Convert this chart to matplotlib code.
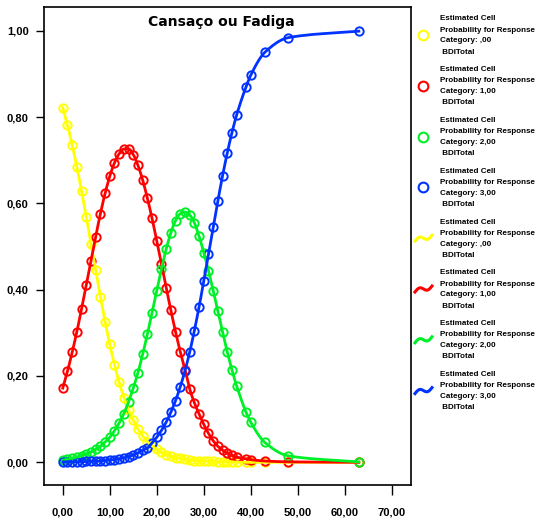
import numpy as np
import matplotlib
matplotlib.use("Agg")
import matplotlib.pyplot as plt
from matplotlib.lines import Line2D

# BDITotal values where the model was evaluated
bdi = [0, 1, 2, 3, 4, 5, 6, 7, 8, 9, 10, 11, 12, 13, 14, 15, 16, 17, 18, 19,
       20, 21, 22, 23, 24, 25, 26, 27, 28, 29, 30, 31, 32, 33, 34, 35, 36, 37,
       39, 40, 43, 48, 63]

# estimated cell probabilities, one list per response category
cat0 = [0.822, 0.781, 0.735, 0.684, 0.628, 0.568, 0.506, 0.445, 0.384, 0.326,
        0.273, 0.226, 0.185, 0.150, 0.121, 0.097, 0.077, 0.061, 0.048, 0.038,
        0.030, 0.023, 0.018, 0.014, 0.011, 0.009, 0.007, 0.005, 0.004, 0.003,
        0.003, 0.002, 0.002, 0.001, 0.001, 0.001, 0.001, 0.000,
        0.000, 0.000, 0.000, 0.000, 0.000]
cat1 = [0.172, 0.211, 0.255, 0.303, 0.356, 0.411, 0.467, 0.523, 0.576, 0.623,
        0.663, 0.694, 0.715, 0.726, 0.726, 0.713, 0.688, 0.654, 0.612, 0.565,
        0.513, 0.460, 0.405, 0.352, 0.302, 0.256, 0.215, 0.170, 0.138, 0.112,
        0.088, 0.067, 0.050, 0.037, 0.028, 0.021, 0.016, 0.012,
        0.008, 0.006, 0.003, 0.001, 0.000]
cat2 = [0.005, 0.007, 0.009, 0.012, 0.015, 0.019, 0.024, 0.030, 0.037, 0.047,
        0.058, 0.073, 0.091, 0.113, 0.140, 0.172, 0.208, 0.250, 0.297, 0.347,
        0.398, 0.448, 0.494, 0.532, 0.560, 0.576, 0.580, 0.573, 0.555, 0.524,
        0.486, 0.444, 0.398, 0.350, 0.302, 0.256, 0.214, 0.177,
        0.116, 0.093, 0.046, 0.015, 0.001]
cat3 = [0.001, 0.001, 0.001, 0.001, 0.001, 0.002, 0.002, 0.002, 0.003, 0.004,
        0.005, 0.006, 0.008, 0.010, 0.013, 0.017, 0.022, 0.028, 0.033, 0.045,
        0.058, 0.074, 0.093, 0.116, 0.143, 0.175, 0.212, 0.255, 0.305, 0.360,
        0.420, 0.482, 0.545, 0.606, 0.664, 0.717, 0.764, 0.805,
        0.870, 0.897, 0.950, 0.984, 0.999]

cat_names = [",00", "1,00", "2,00", "3,00"]
colors = ["#ffff00", "#ff0000", "#00f028", "#0033ff"]

xticks = [0, 10, 20, 30, 40, 50, 60, 70]
xtick_labels = ["0,00", "10,00", "20,00", "30,00", "40,00", "50,00", "60,00", "70,00"]
yticks = [0.0, 0.2, 0.4, 0.6, 0.8, 1.0]
ytick_labels = ["0,00", "0,20", "0,40", "0,60", "0,80", "1,00"]


def pchip_line(x, y, n=12):
    # smooth (shape preserving) interpolation line through the points, like SPSS spline lines
    x = np.asarray(x, float)
    y = np.asarray(y, float)
    h = np.diff(x)
    d = np.diff(y) / h
    m = np.zeros_like(y)
    for k in range(1, len(x) - 1):
        if d[k - 1] * d[k] > 0:
            w1 = 2 * h[k] + h[k - 1]
            w2 = h[k] + 2 * h[k - 1]
            m[k] = (w1 + w2) / (w1 / d[k - 1] + w2 / d[k])
    m[0] = d[0]
    m[-1] = d[-1]
    xs, ys = [], []
    for k in range(len(x) - 1):
        t = np.linspace(0, 1, n, endpoint=False)
        h00 = 2 * t**3 - 3 * t**2 + 1
        h10 = t**3 - 2 * t**2 + t
        h01 = -2 * t**3 + 3 * t**2
        h11 = t**3 - t**2
        xs.append(x[k] + t * h[k])
        ys.append(h00 * y[k] + h10 * h[k] * m[k] + h01 * y[k + 1] + h11 * h[k] * m[k + 1])
    xs.append([x[-1]])
    ys.append([y[-1]])
    return np.concatenate(xs), np.concatenate(ys)


W, H = 546, 521
fig = plt.figure(figsize=(W / 100, H / 100), dpi=100)
ax = fig.add_axes([44 / W, 1 - 485 / H, (411 - 44) / W, (485 - 7) / H])

series = [cat0, cat1, cat2, cat3]
# markers first, then the fit lines (same order as the legend)
for vals, c in zip(series, colors):
    ax.plot(bdi, vals, "o", mfc="none", mec=c, ms=6, mew=1.4, zorder=2)
for vals, c in zip(series, colors):
    lx, ly = pchip_line(bdi, vals)
    ax.plot(lx, ly, "-", color=c, lw=2.0, zorder=3)

ax.set_xlim(-4, 74.1)
ax.set_ylim(-0.0526, 1.055)
ax.set_xticks(xticks)
ax.set_xticklabels(xtick_labels)
ax.set_yticks(yticks)
ax.set_yticklabels(ytick_labels)
ax.tick_params(axis="x", direction="out", length=7, width=1, pad=9)
ax.tick_params(axis="y", direction="out", length=6, width=1, pad=5)
for lab in ax.get_xticklabels() + ax.get_yticklabels():
    lab.set_fontfamily("Liberation Sans")
    lab.set_fontweight("bold")
    lab.set_fontsize(8)
for sp in ax.spines.values():
    sp.set_linewidth(1.2)

ax.text(0.482, 0.968, "Cansaço ou Fadiga", transform=ax.transAxes,
        ha="center", va="center", fontsize=10, fontweight="bold",
        family="DejaVu Sans")


def fx(px):
    return px / W


def fy(py):
    return 1 - py / H


# legend drawn by hand to the right of the plot
pitch = 50.8
for i in range(8):
    top = 19 + pitch * i
    c = colors[i % 4]
    lines = ["Estimated Cell", "Probability for Response",
             "Category: " + cat_names[i % 4], " BDITotal"]
    for k, s in enumerate(lines):
        fig.text(fx(440), fy(top + 11 * k), s, ha="left", va="center",
                 fontsize=5.8, fontweight="bold", family="Liberation Sans")
    cy = top + 16
    if i < 4:
        fig.add_artist(Line2D([fx(423)], [fy(cy)], marker="o", mfc="none",
                              mec=c, ms=7, mew=1.5, ls="none",
                              transform=fig.transFigure))
    else:
        t = np.linspace(0, 1, 25)
        wx = 415 + 17 * t
        wy = cy + 3 - 6 * t - 2.5 * np.sin(2 * np.pi * t)
        fig.add_artist(Line2D(fx(wx), fy(wy), color=c, lw=2.2,
                              transform=fig.transFigure))

fig.savefig("out.png", dpi=100)
